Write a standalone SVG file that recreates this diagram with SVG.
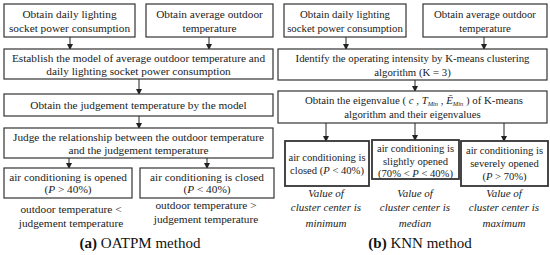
<svg xmlns="http://www.w3.org/2000/svg" width="550" height="255" viewBox="0 0 550 255">
<defs>
<marker id="ah" markerWidth="6" markerHeight="6" refX="5" refY="3" orient="auto" markerUnits="userSpaceOnUse">
<path d="M0,0 L6,3 L0,6 Z" fill="#222"/>
</marker>
<style>
.box{fill:#fff;stroke:#333;stroke-width:1.2}
.thick{stroke-width:1.8}
.t{font-family:"Liberation Serif","Times New Roman",serif;font-size:11.3px;fill:#222;text-anchor:middle}
.r{font-size:10.8px}
.s{font-size:10.6px}
.it{font-style:italic}
.lab{font-family:"Liberation Serif","Times New Roman",serif;font-size:11px;fill:#222;text-anchor:middle;font-style:italic}
.cap{font-family:"Liberation Serif","Times New Roman",serif;font-size:15px;fill:#111;text-anchor:middle}
.conn line{stroke:#222;stroke-width:1;marker-end:url(#ah)}
</style>
</defs>
<rect width="550" height="255" fill="#fff"/>

<g class="conn" id="connectors">
<line x1="70" y1="37" x2="70" y2="49"/>
<line x1="209" y1="37" x2="209" y2="49"/>
<line x1="139" y1="79" x2="139" y2="94"/>
<line x1="139" y1="116" x2="139" y2="128"/>
<line x1="69" y1="158" x2="69" y2="168"/>
<line x1="207" y1="158" x2="207" y2="168"/>
<line x1="346" y1="37" x2="346" y2="49"/>
<line x1="484" y1="37" x2="484" y2="49"/>
<line x1="415" y1="80" x2="415" y2="91"/>
<line x1="326" y1="123" x2="326" y2="141"/>
<line x1="415" y1="123" x2="415" y2="140"/>
<line x1="504" y1="123" x2="504" y2="141"/>
</g>

<g id="a1"><rect class="box" x="4" y="4" width="131" height="33"/>
<text class="t" x="69.5" y="18">Obtain daily lighting</text>
<text class="t" x="69.5" y="32">socket power consumption</text></g>

<g id="a2"><rect class="box" x="146" y="4" width="127" height="33"/>
<text class="t" x="209.5" y="18">Obtain average outdoor</text>
<text class="t" x="209.5" y="32">temperature</text></g>

<g id="a3"><rect class="box" x="4" y="49" width="269" height="30"/>
<text class="t" x="138.5" y="62">Establish the model of average outdoor temperature and</text>
<text class="t" x="138.5" y="75">daily lighting socket power consumption</text></g>

<g id="a4"><rect class="box" x="4" y="94" width="269" height="22"/>
<text class="t" x="138.5" y="109">Obtain the judgement temperature by the model</text></g>

<g id="a5"><rect class="box" x="4" y="128" width="269" height="30"/>
<text class="t" x="138.5" y="141">Judge the relationship between the outdoor temperature</text>
<text class="t" x="138.5" y="154">and the judgement  temperature</text></g>

<g id="a6"><rect class="box" x="4" y="168" width="128" height="30"/>
<text class="t" x="68" y="181">air conditioning is opened</text>
<text class="t" x="68" y="193">(<tspan class="it">P</tspan> &gt; 40%)</text></g>

<g id="a7"><rect class="box" x="140" y="168" width="134" height="30"/>
<text class="t" x="207" y="181">air conditioning is closed</text>
<text class="t" x="207" y="193">(<tspan class="it">P</tspan> &lt; 40%)</text></g>

<g id="a-labels">
<text class="t" x="71" y="213">outdoor temperature &lt;</text>
<text class="t" x="71" y="227">judgement temperature</text>
<text class="t" x="206" y="209">outdoor temperature &gt;</text>
<text class="t" x="206" y="223">judgement temperature</text>
</g>

<text class="cap" x="140" y="248"><tspan font-weight="bold">(a)</tspan> OATPM method</text>

<g id="b1"><rect class="box" x="284" y="4" width="122" height="33"/>
<text class="t r" x="345" y="18">Obtain daily lighting</text>
<text class="t r" x="345" y="32">socket power consumption</text></g>

<g id="b2"><rect class="box" x="423" y="4" width="124" height="33"/>
<text class="t r" x="485" y="18">Obtain average outdoor</text>
<text class="t r" x="485" y="32">temperature</text></g>

<g id="b3"><rect class="box" x="278" y="49" width="269" height="31"/>
<text class="t r" x="412.5" y="62">Identify the operating intensity by K-means clustering</text>
<text class="t r" x="412.5" y="76">algorithm (K = 3)</text></g>

<g id="b4"><rect class="box" x="278" y="91" width="269" height="32"/>
<text class="t r" x="414" y="104">Obtain the eigenvalue  ( <tspan class="it">c</tspan> , <tspan class="it">T</tspan><tspan class="it" font-size="6.5" dy="2">Min</tspan><tspan dy="-2"> , </tspan><tspan class="it">Ē</tspan><tspan class="it" font-size="6.5" dy="2">Min</tspan><tspan dy="-2"> ) of K-means</tspan></text>
<text class="t r" x="412.5" y="118">algorithm and their eigenvalues</text></g>

<g id="b5"><rect class="box thick" x="285" y="141" width="84" height="45"/>
<text class="t s" x="327" y="161">air conditioning is</text>
<text class="t s" x="327" y="174">closed (<tspan class="it">P</tspan> &lt; 40%)</text></g>

<g id="b6"><rect class="box thick" x="372" y="140" width="87" height="39"/>
<text class="t s" x="415.5" y="152">air conditioning is</text>
<text class="t s" x="415.5" y="165">slightly opened</text>
<text class="t s" x="415.5" y="177">(70% &lt; <tspan class="it">P</tspan> &lt; 40%)</text></g>

<g id="b7"><rect class="box thick" x="461" y="141" width="87" height="45"/>
<text class="t s" x="504.5" y="154">air conditioning is</text>
<text class="t s" x="504.5" y="167">severely opened</text>
<text class="t s" x="504.5" y="180">(<tspan class="it">P</tspan> &gt; 70%)</text></g>

<g id="b-labels">
<text class="lab" x="326" y="197">Value of</text>
<text class="lab" x="326" y="211">cluster center  is</text>
<text class="lab" x="326" y="227">minimum</text>
<text class="lab" x="415" y="197">Value of</text>
<text class="lab" x="415" y="211">cluster center  is</text>
<text class="lab" x="415" y="227">median</text>
<text class="lab" x="504" y="197">Value of</text>
<text class="lab" x="504" y="211">cluster center  is</text>
<text class="lab" x="504" y="227">maximum</text>
</g>

<text class="cap" x="420" y="248"><tspan font-weight="bold">(b)</tspan> KNN method</text>
</svg>
